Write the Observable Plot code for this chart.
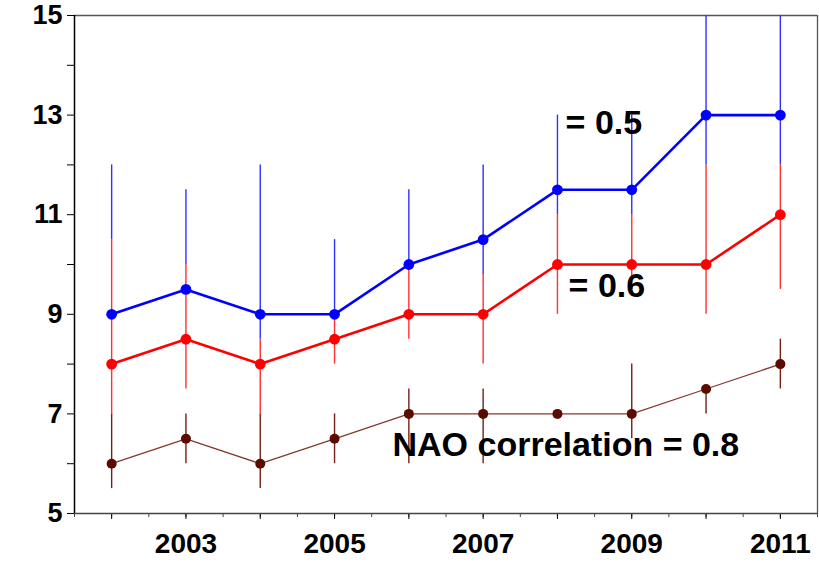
<!DOCTYPE html>
<html>
<head>
<meta charset="utf-8">
<script src="https://cdn.jsdelivr.net/npm/d3@7"></script>
<script src="https://cdn.jsdelivr.net/npm/@observablehq/plot@0.6"></script>
<style>
  html, body { margin: 0; padding: 0; background: #fff; }
  #chart { width: 819px; height: 579px; }
  svg { font-family: "Liberation Sans", Arial, sans-serif; }
</style>
</head>
<body>
<div id="chart"></div>
<script>
// ---- data ----
const years = [2002, 2003, 2004, 2005, 2006, 2007, 2008, 2009, 2010, 2011];

const blueValues = [9, 9.5, 9, 9, 10, 10.5, 11.5, 11.5, 13, 13];
const blueLow    = [10.5, 10, 8.5, 9, 10, 9.8, 11, 11, 12, 12];
const blueHigh   = [12, 11.5, 12, 10.5, 11.5, 12, 13, 13, 16, 16];

const redValues = [8, 8.5, 8, 8.5, 9, 9, 10, 10, 10, 11];
const redLow    = [7, 7.5, 7, 8, 8.5, 8, 9, 9.5, 9, 9.5];
const redHigh   = [10.5, 10, 8.5, 9, 10, 9.8, 11, 11, 12, 12];

const brownValues = [6, 6.5, 6, 6.5, 7, 7, 7, 7, 7.5, 8];
const brownLow    = [5.5, 6, 5.5, 6, 6, 6, 7, 6.5, 7, 7.5];
const brownHigh   = [7, 7, 7, 7, 7.5, 7.5, 7, 8, 7.5, 8.5];

const yTicks = [5, 6, 7, 8, 9, 10, 11, 12, 13, 14, 15];
const yLabels = [5, 7, 9, 11, 13, 15];
const xMinorTicks = d3.range(2001.5, 2011.51, 0.5);
const xLabels = [2003, 2005, 2007, 2009, 2011];

const annoText = ["= 0.5", "= 0.6", "NAO correlation = 0.8"];
const annoYear = [2008.11, 2008.15, 2005.78];
const annoValue = [12.63, 9.34, 6.16];

// ---- tables ----
const mk = (vals, lo, hi) => years.map((y, i) => ({year: y, v: vals[i], lo: lo[i], hi: hi[i]}));
const blue = mk(blueValues, blueLow, blueHigh);
const red = mk(redValues, redLow, redHigh);
const brown = mk(brownValues, brownLow, brownHigh);
const annos = annoText.map((t, i) => ({t, x: annoYear[i], y: annoValue[i]}));

const C = {
  blue: "#0000ff", blueBar: "#3030ff",
  red: "#ff0000", redBar: "#ff3030",
  brown: "#5a0c00", brownBar: "#742014", brownLine: "#86392c"
};

const chart = Plot.plot({
  width: 819,
  height: 579,
  marginLeft: 74,
  marginRight: 2,
  marginTop: 15,
  marginBottom: 66,
  style: {fontFamily: "'Liberation Sans', Arial, sans-serif", background: "#fff"},
  x: {type: "linear", domain: [2001.5, 2011.5]},
  y: {type: "linear", domain: [5, 15]},
  marks: [
    // frame
    Plot.ruleY([15], {stroke: "#555", strokeWidth: 1.3}),
    Plot.ruleX([2011.5], {stroke: "#555", strokeWidth: 1.3}),
    // error bars
    Plot.ruleX(blue, {x: "year", y1: "lo", y2: "hi", stroke: C.blueBar, strokeWidth: 1.4, clip: true}),
    Plot.ruleX(red, {x: "year", y1: "lo", y2: "hi", stroke: C.redBar, strokeWidth: 1.4, clip: true}),
    Plot.ruleX(brown, {x: "year", y1: "lo", y2: "hi", stroke: C.brownBar, strokeWidth: 1.4, clip: true}),
    // lines
    Plot.line(brown, {x: "year", y: "v", stroke: C.brownLine, strokeWidth: 1.3}),
    Plot.line(red, {x: "year", y: "v", stroke: C.red, strokeWidth: 2.6}),
    Plot.line(blue, {x: "year", y: "v", stroke: C.blue, strokeWidth: 2.6}),
    // points
    Plot.dot(brown, {x: "year", y: "v", r: 5, fill: C.brown}),
    Plot.dot(red, {x: "year", y: "v", r: 5.4, fill: C.red}),
    Plot.dot(blue, {x: "year", y: "v", r: 5.4, fill: C.blue}),
    // annotations
    Plot.text(annos, {x: "x", y: "y", text: "t", textAnchor: "start", lineAnchor: "bottom",
      fontSize: 34, fontWeight: "bold", fill: "#000"}),
    // axes
    Plot.axisY({ticks: yTicks, tickSize: 7, tickPadding: 5,
      tickFormat: d => yLabels.includes(d) ? String(d) : "",
      fontSize: 27, fontWeight: "bold", color: "#000", label: null}),
    Plot.axisX({ticks: xMinorTicks, tickSize: 4, tickFormat: () => "", label: null, stroke: "#444"}),
    Plot.axisX({ticks: years, tickSize: 6, tickPadding: 14,
      tickFormat: d => xLabels.includes(d) ? String(d) : "",
      fontSize: 28, fontWeight: "bold", color: "#000", label: null}),
    Plot.ruleY([5], {stroke: "#444", strokeWidth: 1.5}),
    Plot.ruleX([2001.5], {stroke: "#000", strokeWidth: 1.5})
  ]
});
document.getElementById("chart").appendChild(chart);
</script>
</body>
</html>
